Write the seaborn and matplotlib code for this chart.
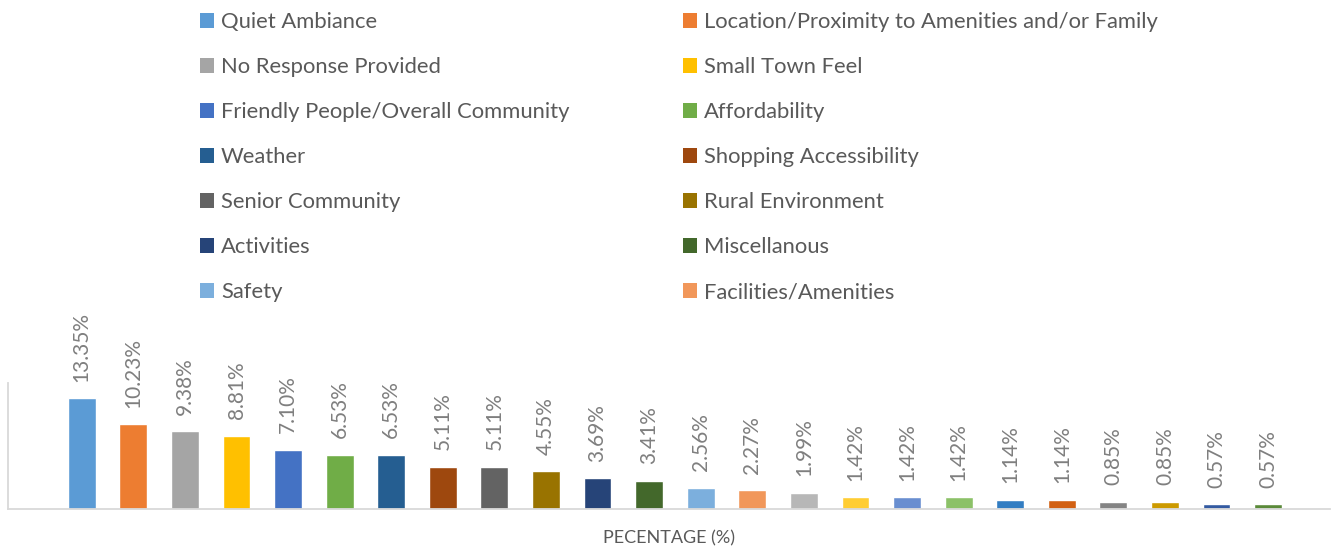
import matplotlib
matplotlib.use("Agg")
import matplotlib.pyplot as plt
import seaborn as sns
import pandas as pd
from matplotlib.patches import Patch

# Survey answers, ordered as in the chart
categories = [
    "Quiet Ambiance", "Location/Proximity to Amenities and/or Family",
    "No Response Provided", "Small Town Feel",
    "Friendly People/Overall Community", "Affordability",
    "Weather", "Shopping Accessibility",
    "Senior Community", "Rural Environment",
    "Activities", "Miscellanous",
    "Safety", "Facilities/Amenities",
    "Category 15", "Category 16", "Category 17", "Category 18", "Category 19",
    "Category 20", "Category 21", "Category 22", "Category 23", "Category 24",
]
percentages = [13.35, 10.23, 9.38, 8.81, 7.10, 6.53, 6.53, 5.11, 5.11, 4.55,
               3.69, 3.41, 2.56, 2.27, 1.99, 1.42, 1.42, 1.42, 1.14, 1.14,
               0.85, 0.85, 0.57, 0.57]
bar_colors = ["#5B9BD5", "#ED7D31", "#A5A5A5", "#FFC000", "#4472C4", "#70AD47",
              "#255E91", "#9E480E", "#636363", "#997300", "#264478", "#43682B",
              "#7CAFDD", "#F1975A", "#B7B7B7", "#FFCD33", "#698ED0", "#8CC168",
              "#327DC2", "#D26012", "#848484", "#CC9A00", "#335AA1", "#5A8A39"]
n_legend = 14  # only the first 14 entries are visible in the legend

sns.set_theme(style="white")
plt.rcParams["font.family"] = ["Lato", "DejaVu Sans"]

W, H = 1334, 548
fig = plt.figure(figsize=(W / 100, H / 100), dpi=100)
ax = fig.add_axes([8 / W, 39 / H, 1322 / W, 126 / H])

df = pd.DataFrame({"category": categories, "pct": percentages})
sns.barplot(data=df, x="category", y="pct", hue="category", palette=bar_colors,
            saturation=1, width=0.54, legend=False, ax=ax)

ax.set_xlim(-1.43, 24.2)
ax.set_ylim(0, 15.2)
ax.set_xticks([])
ax.set_yticks([])
ax.set_ylabel("")
ax.set_xlabel("PECENTAGE (%)", fontsize=13, color="#595959", labelpad=15)
for side in ["top", "right"]:
    ax.spines[side].set_visible(False)
for side in ["left", "bottom"]:
    ax.spines[side].set_color("#D9D9D9")
    ax.spines[side].set_linewidth(1.3)

for cont in ax.containers:
    ax.bar_label(cont, labels=[f"{b.get_height():.2f}%" for b in cont],
                 rotation=90, padding=12, color="#7F7F7F", fontsize=15)

# legend laid out row by row in two columns
handles = [Patch(facecolor=bar_colors[i], edgecolor="none") for i in range(n_legend)]
labels = categories[:n_legend]
for col, x0 in [(0, 200), (1, 683)]:
    idx = list(range(col, n_legend, 2))
    fig.legend([handles[i] for i in idx], [labels[i] for i in idx],
               loc="upper left", bbox_to_anchor=(x0 / W, 1 - 12 / H),
               frameon=False, fontsize=15.8, labelcolor="#595959",
               handlelength=0.65, handleheight=0.65, handletextpad=0.3,
               labelspacing=1.14, borderpad=0, borderaxespad=0)

fig.savefig("out.png", dpi=100)
